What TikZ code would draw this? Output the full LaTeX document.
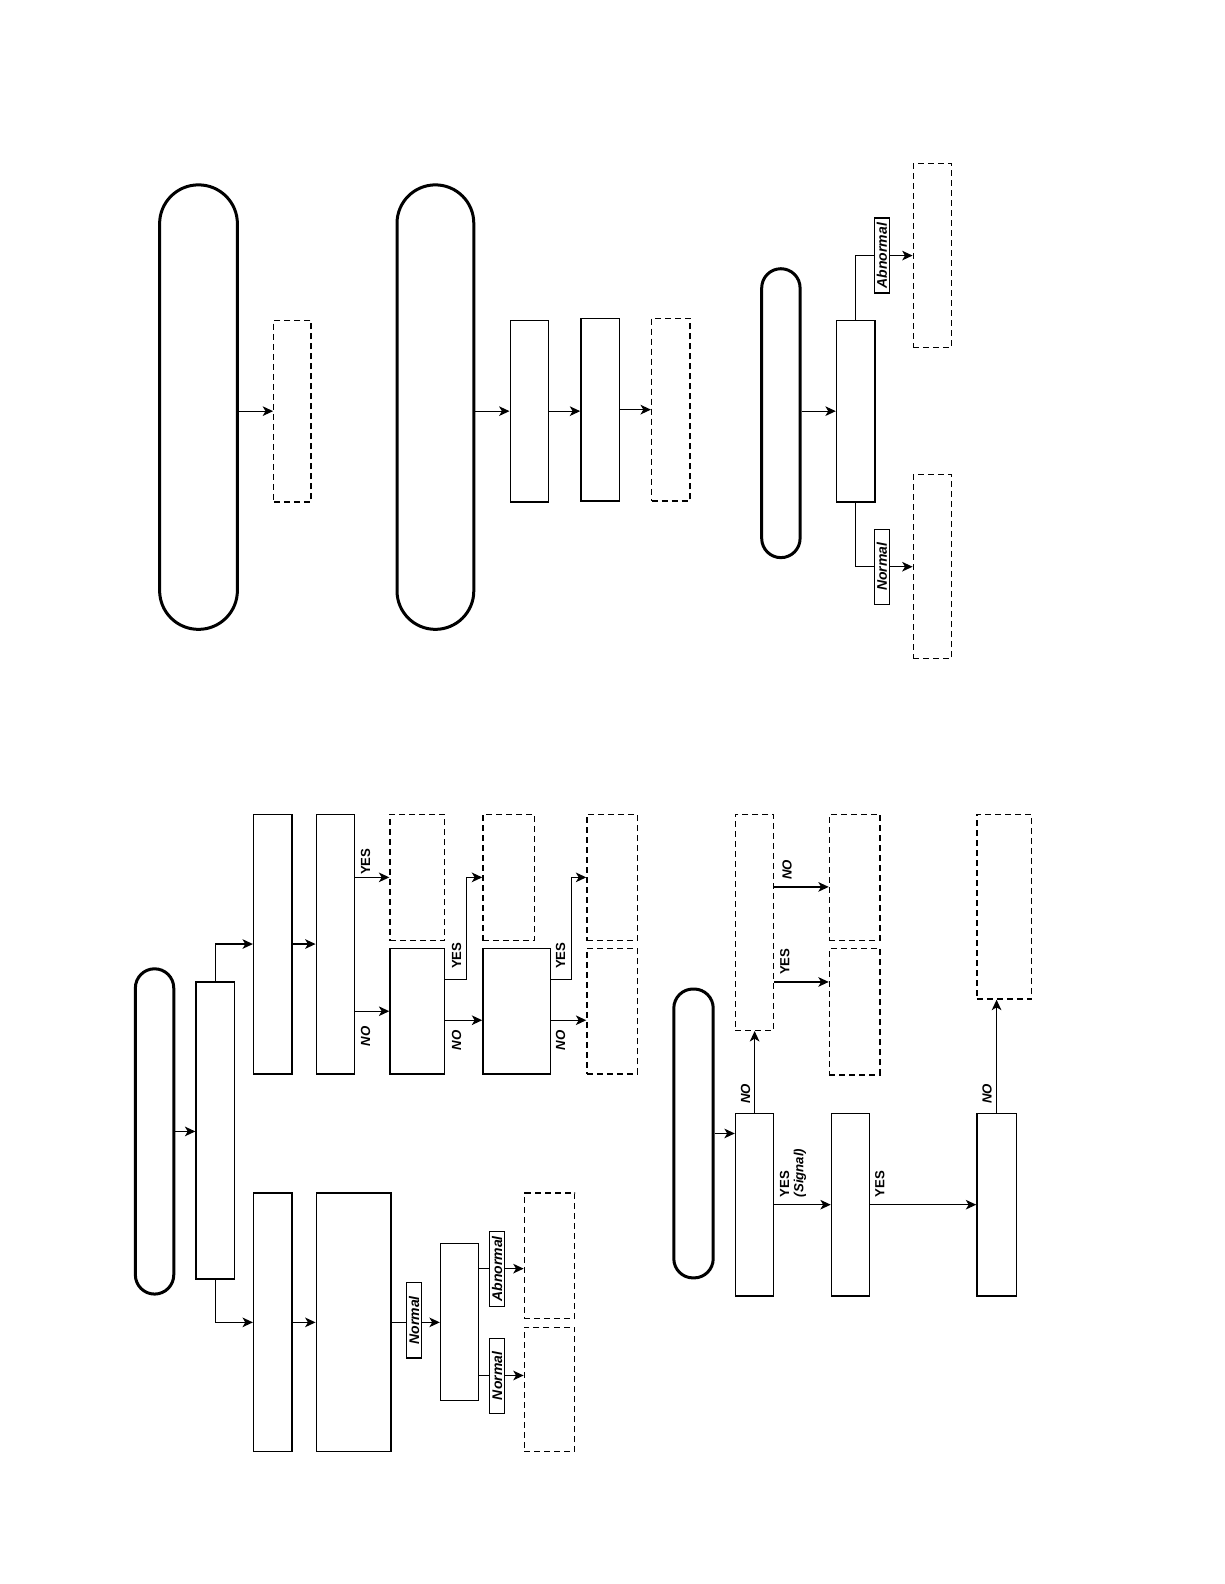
\documentclass[tikz,border=0pt]{standalone}
\usepackage{fontspec}
\newfontfamily\flowfont{Liberation Sans}
\usetikzlibrary{arrows.meta,fit}

\tikzset{
    pill/.style={draw,line width=1.5pt,rounded corners=#1,inner sep=0pt},
    stepbox/.style={draw,line width=0.65pt,inner sep=0pt},
    openbox/.style={draw,line width=0.65pt,dash pattern=on 3pt off 2pt,inner sep=0pt},
    link/.style={line width=0.65pt,-{Stealth[length=5.2pt,width=4.8pt,inset=1.4pt]}},
    answer/.style={rotate=90,inner sep=0pt,align=left,
        font=\flowfont\bfseries\fontsize{6.6}{7.2}\selectfont},
    answerit/.style={answer,font=\flowfont\bfseries\itshape\fontsize{6.6}{7.2}\selectfont},
    tagbox/.style={rotate=90,draw,line width=0.65pt,fill=white,inner sep=0pt,
        minimum width=37.5pt,minimum height=7.6pt,
        font=\flowfont\bfseries\itshape\fontsize{7}{7}\selectfont},
}

\begin{document}
\begin{tikzpicture}[x=0.5049pt,y=-0.5049pt]
    \useasboundingbox (0,0) rectangle (1212,1568);

    % top row
    \node[pill=19.4pt,fit={(158,183) (235,623)}] (pillA) {};
    \node[openbox,fit={(271,317) (308,497)}] (outA) {};
    \node[pill=19.2pt,fit={(393,183) (469,623)}] (pillB) {};
    \node[stepbox,fit={(505,317) (543,497)}] (stepA1) {};
    \node[stepbox,fit={(575,315) (613,496)}] (stepA2) {};
    \node[openbox,fit={(645,315) (683,496)}] (outB) {};

    \node[pill=9.6pt,fit={(754,266) (792,552)}] (pillC) {};
    \node[stepbox,fit={(828,317) (866,497)}] (chkC) {};
    \node[openbox,fit={(904,162) (942,344)}] (outC1) {};
    \node[openbox,fit={(904,470) (942,652)}] (outC2) {};

    \draw[link] (pillA.east |- outA.west) -- (outA.west);
    \draw[link] (pillB.east |- stepA1.west) -- (stepA1.west);
    \draw[link] (stepA1.east) -- (stepA1.east -| stepA2.west);
    \draw[link] (stepA2.east) -- (outB.west);
    \draw[link] (pillC.east |- chkC.west) -- (chkC.west);
    \draw[link] (chkC.north) |- (outC1.west);
    \draw[link] (chkC.south) |- (outC2.west);

    \node[tagbox] (tagC1) at (873,253) {Abnormal};
    \node[tagbox] (tagC2) at (873,561) {Normal};

    % lower left
    \node[pill=9.6pt,fit={(134,959) (172,1281)}] (pillD) {};
    \node[stepbox,fit={(194,972) (232,1266)}] (splitD) {};
    \node[stepbox,fit={(251,806) (289,1063)}] (hiD) {};
    \node[stepbox,fit={(313,806) (351,1063)}] (hiD2) {};
    \node[openbox,fit={(386,806) (440,931)}] (yesD1) {};
    \node[stepbox,fit={(386,939) (440,1063)}] (qD1) {};
    \node[openbox,fit={(478,806) (529,931)}] (yesD2) {};
    \node[stepbox,fit={(478,939) (545,1063)}] (qD2) {};
    \node[openbox,fit={(581,806) (631,931)}] (yesD3) {};
    \node[openbox,fit={(581,939) (631,1063)}] (noD3) {};
    \node[stepbox,fit={(251,1181) (289,1437)}] (loD) {};
    \node[stepbox,fit={(313,1181) (387,1437)}] (loD2) {};
    \node[stepbox,fit={(436,1231) (474,1386)}] (chkD) {};
    \node[openbox,fit={(519,1181) (569,1305)}] (abnD) {};
    \node[openbox,fit={(519,1314) (569,1437)}] (nrmD) {};

    \coordinate (kyes) at ([yshift=15.9pt]qD1.east);
    \coordinate (kno) at ([yshift=-4.5pt]qD1.east);
    \coordinate (myes) at ([yshift=15.9pt]qD2.east);
    \coordinate (mno) at ([yshift=-4.5pt]qD2.east);
    \coordinate (rabn) at ([yshift=26.6pt]chkD.east);
    \coordinate (rnrm) at ([yshift=-26.8pt]chkD.east);

    \draw[link] (pillD.east) -- (pillD.east -| splitD.west);
    \draw[link] (splitD.north) |- (hiD.west);
    \draw[link] (splitD.south) |- (loD.west);
    \draw[link] (hiD.east) -- (hiD2.west);
    \draw[link] (hiD2.east |- yesD1.west) -- (yesD1.west);
    \draw[link] (hiD2.east |- qD1.west) -- (qD1.west);
    \draw[link] (kyes) -- ++(21,0) |- (yesD2.west);
    \draw[link] (kno) -- (kno -| qD2.west);
    \draw[link] (myes) -- ++(20,0) |- (yesD3.west);
    \draw[link] (mno) -- (mno -| noD3.west);
    \draw[link] (loD.east) -- (loD2.west);
    \draw[link] (loD2.east) -- (loD2.east -| chkD.west);
    \draw[link] (rabn) -- (rabn -| abnD.west);
    \draw[link] (rnrm) -- (rnrm -| nrmD.west);

    \node[answer] (lblI1) at (362,853) {YES};
    \node[answerit] (lblI2) at (362,1026) {NO};
    \node[answer] (lblK1) at (452,946) {YES};
    \node[answerit] (lblK2) at (452,1030) {NO};
    \node[answer] (lblM1) at (555,946) {YES};
    \node[answerit] (lblM2) at (555,1030) {NO};
    \node[tagbox] (tagQ) at (410,1307) {Normal};
    \node[tagbox] (tagR1) at (492,1256) {Abnormal};
    \node[tagbox] (tagR2) at (492,1362) {Normal};

    % lower right
    \node[pill=9.6pt,fit={(667,979) (706,1265)}] (pillE) {};
    \node[stepbox,fit={(728,1102) (766,1283)}] (askE) {};
    \node[openbox,fit={(728,806) (766,1020)}] (noE) {};
    \node[openbox,fit={(821,939) (871,1064)}] (yesE1) {};
    \node[openbox,fit={(821,806) (871,931)}] (noE1) {};
    \node[stepbox,fit={(823,1102) (861,1283)}] (sigE) {};
    \node[stepbox,fit={(967,1102) (1006,1283)}] (finE) {};
    \node[openbox,fit={(967,806) (1021,989)}] (noE2) {};

    \coordinate (vyes) at ([yshift=-29.8pt]noE.east);
    \coordinate (vno) at ([yshift=17.7pt]noE.east);

    \draw[link] (pillE.east) -- (pillE.east -| askE.west);
    \draw[link] (askE.north) -- (noE.south);
    \draw[link] (vyes) -- (vyes -| yesE1.west);
    \draw[link] (vno) -- (vno -| noE1.west);
    \draw[link] (askE.east) -- (sigE.west);
    \draw[link] (sigE.east) -- (finE.west);
    \draw[link] (finE.north) -- (finE.north |- noE2.south);

    \node[answerit] (lblU) at (738,1083) {NO};
    \node[answerit] (lblV2) at (779,861) {NO};
    \node[answer] (lblV1) at (777,952) {YES};
    \node[answer] (lblU2) at (785,1161) {YES\\\itshape(Signal)};
    \node[answer] (lblY) at (871,1172) {YES};
    \node[answerit] (lblZ) at (977,1083) {NO};
\end{tikzpicture}
\end{document}
